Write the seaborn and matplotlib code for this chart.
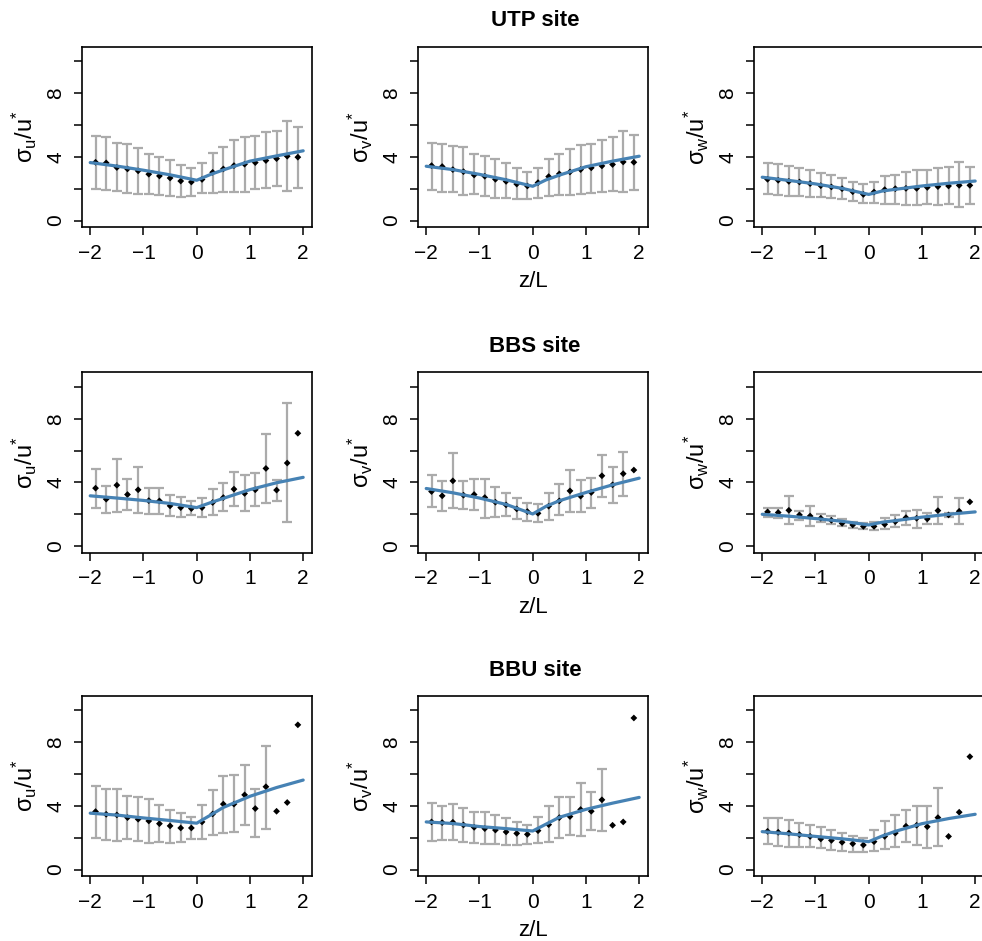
import numpy as np
import pandas as pd
import matplotlib
matplotlib.use("Agg")
import matplotlib.pyplot as plt
import seaborn as sns

nan = np.nan

# z/L bin centres and the x positions where the model curve was read
z_bins = [-1.9, -1.7, -1.5, -1.3, -1.1, -0.9, -0.7, -0.5, -0.3, -0.1,
          0.1, 0.3, 0.5, 0.7, 0.9, 1.1, 1.3, 1.5, 1.7, 1.9]
z_fit = [-2, -1.5, -1, -0.5, 0, 0.25, 0.5, 1, 1.5, 2]

sites = ["UTP site", "BBS site", "BBU site"]
components = ["u", "v", "w"]

# UTP
utp_u = [3.66, 3.62, 3.33, 3.24, 3.12, 2.91, 2.80, 2.67, 2.48, 2.42, 2.58, 3.03, 3.24, 3.45, 3.54, 3.64, 3.77, 3.89, 4.04, 3.98]
utp_u_hi = [5.33, 5.24, 4.84, 4.78, 4.57, 4.21, 4.00, 3.81, 3.47, 3.33, 3.62, 4.23, 4.61, 5.07, 5.26, 5.31, 5.56, 5.64, 6.27, 5.89]
utp_u_lo = [1.96, 1.92, 1.83, 1.73, 1.68, 1.64, 1.58, 1.54, 1.49, 1.56, 1.71, 1.75, 1.81, 1.79, 1.79, 1.98, 2.06, 2.17, 1.85, 2.06]
utp_u_fit = [3.64, 3.42, 3.16, 2.87, 2.53, 2.88, 3.18, 3.73, 4.06, 4.38]

utp_v = [3.45, 3.39, 3.20, 3.07, 2.86, 2.78, 2.59, 2.46, 2.29, 2.17, 2.38, 2.76, 2.93, 3.05, 3.20, 3.31, 3.43, 3.52, 3.68, 3.66]
utp_v_hi = [4.88, 4.82, 4.67, 4.59, 4.15, 4.04, 3.87, 3.64, 3.33, 3.05, 3.31, 3.89, 4.19, 4.51, 4.76, 4.80, 5.07, 5.24, 5.62, 5.35]
utp_v_lo = [1.94, 1.81, 1.77, 1.60, 1.64, 1.52, 1.41, 1.41, 1.35, 1.35, 1.43, 1.52, 1.60, 1.60, 1.66, 1.73, 1.79, 1.87, 1.77, 1.94]
utp_v_fit = [3.41, 3.20, 2.90, 2.56, 2.15, 2.55, 2.85, 3.38, 3.73, 4.04]

utp_w = [2.59, 2.53, 2.46, 2.42, 2.32, 2.19, 2.11, 2.00, 1.81, 1.64, 1.79, 1.94, 2.00, 2.02, 2.02, 2.08, 2.13, 2.17, 2.21, 2.21]
utp_w_hi = [3.62, 3.54, 3.43, 3.33, 3.16, 3.01, 2.86, 2.67, 2.44, 2.29, 2.42, 2.78, 2.88, 3.05, 3.16, 3.16, 3.31, 3.39, 3.68, 3.37]
utp_w_lo = [1.68, 1.62, 1.56, 1.52, 1.49, 1.45, 1.41, 1.35, 1.24, 1.07, 1.12, 1.03, 1.01, 0.95, 0.97, 1.03, 0.99, 1.01, 0.88, 1.05]
utp_w_fit = [2.72, 2.52, 2.30, 2.02, 1.64, 1.85, 1.96, 2.17, 2.34, 2.48]

# BBS
bbs_u = [3.64, 2.95, 3.83, 3.24, 3.54, 2.86, 2.84, 2.53, 2.42, 2.36, 2.42, 2.74, 3.05, 3.58, 3.31, 3.54, 4.88, 3.52, 5.22, 7.09]
bbs_u_hi = [4.84, 3.77, 5.49, 4.21, 4.99, 3.64, 3.64, 3.20, 3.07, 2.84, 3.01, 3.60, 3.98, 4.63, 4.44, 4.61, 7.07, 4.17, 8.97, nan]
bbs_u_lo = [2.42, 2.11, 2.17, 2.25, 2.11, 2.04, 2.04, 1.92, 1.85, 1.94, 1.83, 1.96, 2.21, 2.50, 2.19, 2.50, 2.74, 2.86, 1.49, nan]
bbs_u_fit = [3.16, 3.02, 2.87, 2.68, 2.42, 2.72, 3.00, 3.55, 3.98, 4.32]

bbs_v = [3.43, 3.16, 4.10, 3.20, 3.24, 3.05, 2.76, 2.59, 2.34, 2.17, 2.06, 2.51, 2.84, 3.47, 3.14, 3.37, 4.42, 3.85, 4.55, 4.78]
bbs_v_hi = [4.46, 4.10, 5.83, 4.10, 4.21, 4.23, 3.73, 3.33, 3.05, 2.74, 2.67, 3.35, 3.89, 4.76, 4.15, 4.29, 5.73, 4.99, 5.94, nan]
bbs_v_lo = [2.46, 2.19, 2.40, 2.34, 2.25, 1.79, 1.85, 1.89, 1.71, 1.58, 1.49, 1.64, 1.94, 2.17, 2.13, 2.42, 3.09, 2.72, 3.12, nan]
bbs_v_fit = [3.62, 3.35, 3.02, 2.62, 2.02, 2.50, 2.85, 3.37, 3.85, 4.27]

bbs_w = [2.15, 2.11, 2.25, 1.96, 1.89, 1.75, 1.62, 1.43, 1.33, 1.24, 1.24, 1.37, 1.54, 1.79, 1.75, 1.71, 2.23, 1.96, 2.19, 2.78]
bbs_w_hi = [2.40, 2.38, 3.16, 2.23, 2.51, 2.04, 1.87, 1.73, 1.54, 1.45, 1.52, 1.79, 1.94, 2.23, 2.29, 2.08, 3.09, 2.08, 3.01, nan]
bbs_w_lo = [1.83, 1.79, 1.37, 1.66, 1.26, 1.54, 1.39, 1.26, 1.16, 1.07, 1.03, 1.09, 1.18, 1.33, 1.16, 1.39, 1.37, 1.83, 1.37, nan]
bbs_w_fit = [2.00, 1.88, 1.73, 1.56, 1.33, 1.50, 1.60, 1.82, 2.00, 2.15]

# BBU
bbu_u = [3.64, 3.47, 3.43, 3.26, 3.16, 3.05, 2.88, 2.74, 2.61, 2.61, 2.99, 3.49, 4.11, 4.11, 4.69, 3.83, 5.20, 3.66, 4.21, 9.09]
bbu_u_hi = [5.26, 5.07, 5.03, 4.65, 4.53, 4.42, 4.04, 3.77, 3.52, 3.33, 4.08, 4.97, 5.85, 5.92, 6.55, 5.03, 7.79, nan, nan, nan]
bbu_u_lo = [2.00, 1.85, 1.77, 1.89, 1.79, 1.68, 1.73, 1.66, 1.71, 1.89, 1.92, 2.15, 2.27, 2.36, 2.78, 2.04, 2.57, nan, nan, nan]
bbu_u_fit = [3.54, 3.42, 3.24, 3.08, 2.91, 3.40, 3.90, 4.60, 5.15, 5.62]

bbu_v = [2.99, 2.95, 2.97, 2.80, 2.65, 2.57, 2.48, 2.36, 2.27, 2.21, 2.44, 2.82, 3.26, 3.33, 3.77, 3.66, 4.38, 2.78, 2.99, 9.52]
bbu_v_hi = [4.15, 4.02, 4.13, 3.85, 3.64, 3.62, 3.45, 3.24, 3.01, 2.80, 3.33, 3.98, 4.55, 4.55, 5.41, 4.84, 6.34, nan, nan, nan]
bbu_v_lo = [1.81, 1.85, 1.83, 1.73, 1.66, 1.58, 1.58, 1.54, 1.52, 1.58, 1.64, 1.73, 1.96, 2.15, 2.08, 2.46, 2.40, nan, nan, nan]
bbu_v_fit = [2.99, 2.89, 2.70, 2.57, 2.42, 2.85, 3.28, 3.78, 4.17, 4.53]

bbu_w = [2.40, 2.34, 2.29, 2.19, 2.08, 1.92, 1.83, 1.71, 1.62, 1.54, 1.75, 2.08, 2.29, 2.72, 2.78, 2.69, 3.26, 2.08, 3.60, 7.09]
bbu_w_hi = [3.22, 3.22, 3.14, 2.91, 2.78, 2.69, 2.48, 2.29, 2.11, 1.96, 2.46, 3.03, 3.41, 3.71, 3.98, 4.00, 5.09, nan, nan, nan]
bbu_w_lo = [1.62, 1.49, 1.41, 1.41, 1.39, 1.35, 1.22, 1.14, 1.09, 1.09, 1.18, 1.31, 1.43, 1.71, 1.56, 1.35, 1.45, nan, nan, nan]
bbu_w_fit = [2.38, 2.24, 2.08, 1.93, 1.75, 2.10, 2.40, 2.88, 3.20, 3.47]

panels = [
    [(utp_u, utp_u_hi, utp_u_lo, utp_u_fit), (utp_v, utp_v_hi, utp_v_lo, utp_v_fit), (utp_w, utp_w_hi, utp_w_lo, utp_w_fit)],
    [(bbs_u, bbs_u_hi, bbs_u_lo, bbs_u_fit), (bbs_v, bbs_v_hi, bbs_v_lo, bbs_v_fit), (bbs_w, bbs_w_hi, bbs_w_lo, bbs_w_fit)],
    [(bbu_u, bbu_u_hi, bbu_u_lo, bbu_u_fit), (bbu_v, bbu_v_hi, bbu_v_lo, bbu_v_fit), (bbu_w, bbu_w_hi, bbu_w_lo, bbu_w_fit)],
]

sns.set_style("ticks")
plt.rcParams["font.family"] = ["Liberation Sans", "DejaVu Sans"]
plt.rcParams["mathtext.fontset"] = "custom"
plt.rcParams["mathtext.rm"] = "Liberation Sans"
plt.rcParams["mathtext.it"] = "Liberation Sans:italic"
for key in ["text.color", "axes.labelcolor", "xtick.color", "ytick.color", "axes.edgecolor"]:
    plt.rcParams[key] = "black"

W, H = 982, 941
fig = plt.figure(figsize=(W / 100, H / 100), dpi=100)

col_left = [81.7, 417.7, 753.7]
row_top = [46.7, 372.3, 695.7]
ax_w, ax_h = 230, 180.5

for r in range(3):
    for c in range(3):
        mean, hi, lo, fit = panels[r][c]
        ax = fig.add_axes([col_left[c] / W, 1 - (row_top[r] + ax_h) / H, ax_w / W, ax_h / H])

        d = pd.DataFrame({"z": z_bins, "mean": mean, "hi": hi, "lo": lo})
        eb = d.dropna()
        ax.errorbar(eb["z"], eb["mean"], yerr=[eb["mean"] - eb["lo"], eb["hi"] - eb["mean"]],
                    fmt="none", ecolor="#ababab", elinewidth=1.6, capsize=3.3, capthick=1.6, zorder=1)
        sns.scatterplot(data=d, x="z", y="mean", ax=ax, marker="D", s=12, color="black",
                        edgecolor="none", zorder=2)
        sns.lineplot(x=z_fit, y=fit, ax=ax, color="#4682B4", linewidth=2.3, zorder=3)

        ax.set_xlim(-2.16, 2.16)
        ax.set_ylim(-0.42, 10.92)
        ax.set_xticks([-2, -1, 0, 1, 2])
        ax.set_xticklabels(["\u22122", "\u22121", "0", "1", "2"])
        ax.set_yticks([0, 2, 4, 6, 8, 10])
        ax.set_yticklabels(["0", "", "4", "", "8", ""])
        ax.tick_params(axis="both", direction="out", length=6, width=1.1, pad=6,
                       labelsize=15, color="black", labelcolor="black")
        ax.tick_params(axis="y", labelrotation=90)
        for lab in ax.get_yticklabels():
            lab.set_va("center")
        for sp in ax.spines.values():
            sp.set_visible(True)
            sp.set_linewidth(1.2)
            sp.set_color("black")

        ax.set_ylabel(r"$\mathregular{\sigma_{%s}/u^{*}}$" % components[c], fontsize=17)
        ax.yaxis.set_label_coords(-0.185, 0.5)
        if c == 1:
            ax.set_xlabel("z/L", fontsize=16)
            ax.xaxis.set_label_coords(0.5, -0.245)
        else:
            ax.set_xlabel("")

    fig.text(535 / W, 1 - (row_top[r] - 25.7) / H, sites[r], ha="center", va="center",
             fontsize=16, fontweight="bold")

plt.savefig("out.png", dpi=100)
